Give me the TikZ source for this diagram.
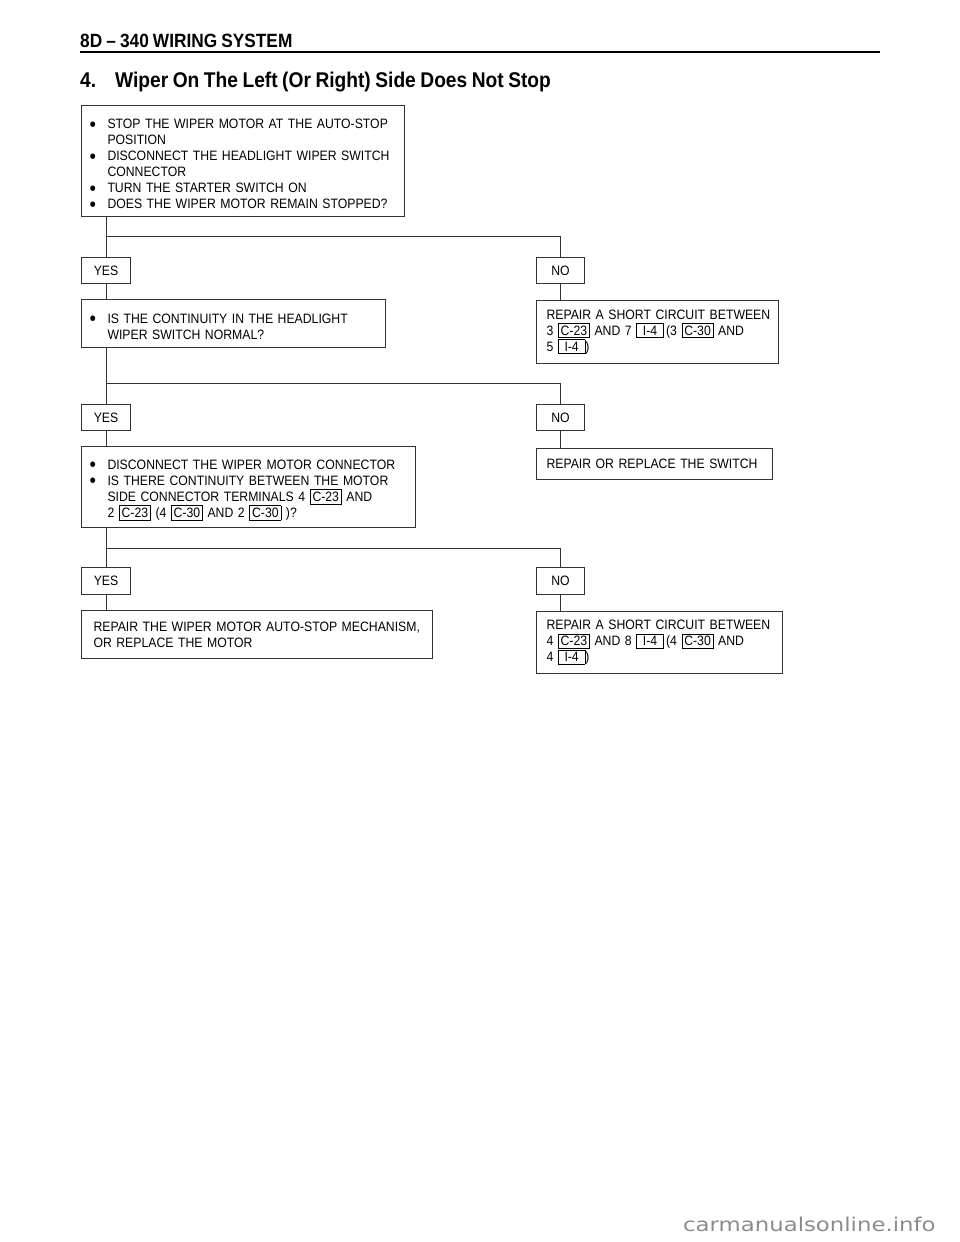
\documentclass[tikz,border=0pt]{standalone}
\usepackage{fontspec}
\usepackage{graphicx}
\setmainfont{Liberation Sans}[FakeStretch=0.9, WordSpace=0.85]
\newfontfamily\wmfont{DejaVu Sans}
\definecolor{ln}{HTML}{333333}
\definecolor{wm}{HTML}{8C8C8C}
\setlength{\fboxsep}{2pt}
\setlength{\fboxrule}{0.8pt}
\newcommand\cb[1]{\smash{\fbox{#1}}}
\newcommand\ib[1]{\smash{\fbox{\makebox[22pt]{#1}}}}
\newcommand\itm[1]{\par\noindent\llap{\makebox[17pt][l]{\kern-1pt\smash{\raisebox{-2.4pt}{\scalebox{1.5}{\textbullet}}}}}#1}
\tikzset{
  box/.style={draw=ln, line width=1pt, rectangle, anchor=north west, inner sep=0pt,
    align=left, font=\fontsize{13.6}{16}\selectfont},
  bul/.style={box},
  tag/.style={draw=ln, line width=1pt, rectangle, anchor=north west, inner sep=0pt,
    minimum width=49pt, minimum height=26pt, font=\fontsize{13.6}{16}\selectfont},
  link/.style={draw=ln, line width=1pt},
}
\begin{document}
\begin{tikzpicture}[x=1pt,y=-1pt]
\useasboundingbox (0,0) rectangle (960,1242);
% header
\node[anchor=base west, inner sep=0pt, font=\bfseries\fontsize{19.2}{20}\selectfont] (hdr) at (80,47) {8D -- 340 WIRING SYSTEM};
\coordinate (rl) at (80,52);
\coordinate (rr) at (880,52);
\draw[line width=2.4pt] (rl) -- (rr);
\node[anchor=base west, inner sep=0pt, font=\bfseries\fontsize{21.3}{22}\selectfont] (ttl) at (80,87) {\makebox[35pt][l]{4.}Wiper On The Left (Or Right) Side Does Not Stop};

% question 1
\node[bul, minimum width=323pt, minimum height=111pt, text width=323pt] (q1) at (81,105) {\leftskip=26pt
\itm{STOP THE WIPER MOTOR AT THE AUTO-STOP\\POSITION}
\itm{DISCONNECT THE HEADLIGHT WIPER SWITCH\\CONNECTOR}
\itm{TURN THE STARTER SWITCH ON}
\itm{DOES THE WIPER MOTOR REMAIN STOPPED?}\par};
\coordinate (s1) at (0,236);
\node[tag] (yes1) at (81,257) {YES};
\node[tag, minimum width=48pt] (no1) at (536,257) {NO};

\node[bul, minimum width=304pt, minimum height=48pt, text width=304pt] (q2) at (81,299) {\leftskip=26pt
\itm{IS THE CONTINUITY IN THE HEADLIGHT\\WIPER SWITCH NORMAL?}\par};
\node[box, minimum width=242pt, minimum height=63pt, text width=242pt] (r1) at (536,300) {\leftskip=10pt
REPAIR A SHORT CIRCUIT BETWEEN\\
3 \cb{C-23} AND 7 \ib{I-4}\,(3 \cb{C-30} AND\\
5 \ib{I-4})\par};

\coordinate (s2) at (0,383);
\node[tag] (yes2) at (81,404) {YES};
\node[tag, minimum width=48pt] (no2) at (536,404) {NO};

\node[bul, minimum width=334pt, minimum height=81pt, text width=334pt] (q3) at (81,446) {\leftskip=26pt
\itm{DISCONNECT THE WIPER MOTOR CONNECTOR}
\itm{IS THERE CONTINUITY BETWEEN THE MOTOR\\SIDE CONNECTOR TERMINALS 4 \cb{C-23} AND\\2 \cb{C-23} (4 \cb{C-30} AND 2 \cb{C-30} )?}\par};
\node[box, minimum width=236pt, minimum height=31pt, text width=236pt] (r2) at (536,448) {\leftskip=10pt
REPAIR OR REPLACE THE SWITCH\par};

\coordinate (s3) at (0,548);
\node[tag, minimum height=27pt] (yes3) at (81,567) {YES};
\node[tag, minimum width=48pt, minimum height=27pt] (no3) at (536,567) {NO};

\node[box, minimum width=351pt, minimum height=48pt, text width=351pt] (r3) at (81,610) {\leftskip=12pt
REPAIR THE WIPER MOTOR AUTO-STOP MECHANISM,\\OR REPLACE THE MOTOR\par};
\node[box, minimum width=246pt, minimum height=62pt, text width=246pt] (r4) at (536,611) {\leftskip=10pt
REPAIR A SHORT CIRCUIT BETWEEN\\
4 \cb{C-23} AND 8 \ib{I-4}\,(4 \cb{C-30} AND\\
4 \ib{I-4})\par};

% connectors
\draw[link] (yes1.north |- q1.south) -- (yes1.north);
\draw[link] (yes1.north |- s1) -| (no1.north);
\draw[link] (yes1.south) -- (yes1.south |- q2.north);
\draw[link] (no1.south) -- (no1.south |- r1.north);

\draw[link] (yes2.north |- q2.south) -- (yes2.north);
\draw[link] (yes2.north |- s2) -| (no2.north);
\draw[link] (yes2.south) -- (yes2.south |- q3.north);
\draw[link] (no2.south) -- (no2.south |- r2.north);

\draw[link] (yes3.north |- q3.south) -- (yes3.north);
\draw[link] (yes3.north |- s3) -| (no3.north);
\draw[link] (yes3.south) -- (yes3.south |- r3.north);
\draw[link] (no3.south) -- (no3.south |- r4.north);

% watermark
\node[anchor=base west, inner sep=0pt, text=wm, font=\wmfont\fontsize{19}{20}\selectfont] (wmk) at (683,1231) {\scalebox{1.2}[1]{carmanualsonline.info}};
\end{tikzpicture}
\end{document}
